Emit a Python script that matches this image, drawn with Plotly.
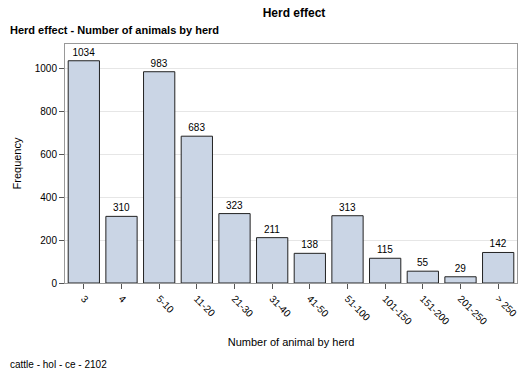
import plotly.graph_objects as go

categories = ["3", "4", "5-10", "11-20", "21-30", "31-40", "41-50", "51-100", "101-150", "151-200", "201-250", "> 250"]
frequency = [1034, 310, 983, 683, 323, 211, 138, 313, 115, 55, 29, 142]
y_ticks = [0, 200, 400, 600, 800, 1000]

font = "Liberation Sans, Arial, sans-serif"

L, R, T, B = 65, 12, 44, 95
W, H = 529, 378
pw, ph = W - L - R, H - T - B

fig = go.Figure(go.Bar(
    x=categories, y=frequency,
    text=[str(v) for v in frequency], textposition="outside",
    textfont=dict(size=10, color="black", family=font),
    cliponaxis=False,
    marker=dict(color="#CAD5E5", line=dict(color="#222222", width=1)),
    width=0.83,
))

fig.update_layout(
    width=W, height=H,
    margin=dict(l=L, r=R, t=T, b=B, autoexpand=False),
    paper_bgcolor="white", plot_bgcolor="white",
    font=dict(family=font, size=11, color="black"),
    showlegend=False,
    title=dict(text="<b>Herd effect</b>", x=(294) / W, xanchor="center", y=1 - 9 / H, yanchor="top",
               font=dict(size=12, family=font)),
    annotations=[
        dict(text="<b>Herd effect - Number of animals by herd</b>", xref="paper", yref="paper",
             x=(8 - L) / pw, xanchor="left", y=(H - B - 30) / ph, yanchor="middle", showarrow=False,
             font=dict(size=11, family=font)),
        dict(text="cattle - hol - ce - 2102", xref="paper", yref="paper",
             x=(8 - L) / pw, xanchor="left", y=(H - B - 364) / ph, yanchor="middle", showarrow=False,
             font=dict(size=10, family=font)),
    ],
    xaxis=dict(
        automargin=False,
        tickangle=45, ticks="outside", ticklen=5, tickcolor="#555555",
        showline=True, linecolor="#999999", mirror=True,
        tickfont=dict(size=10),
        title=dict(text="Number of animal by herd", font=dict(size=11), standoff=12),
    ),
    yaxis=dict(
        automargin=False,
        range=[0, 1112], tickvals=y_ticks, ticks="outside", ticklen=5, tickcolor="#555555",
        showline=True, linecolor="#999999", mirror=True,
        showgrid=True, gridcolor="#E6E6E6", zeroline=False,
        tickfont=dict(size=10),
        title=dict(text="Frequency", font=dict(size=11), standoff=10),
    ),
)

fig.write_html("out.html", config={"displayModeBar": False},
               post_script="document.body.style.margin='0';document.body.style.overflow='hidden';")
